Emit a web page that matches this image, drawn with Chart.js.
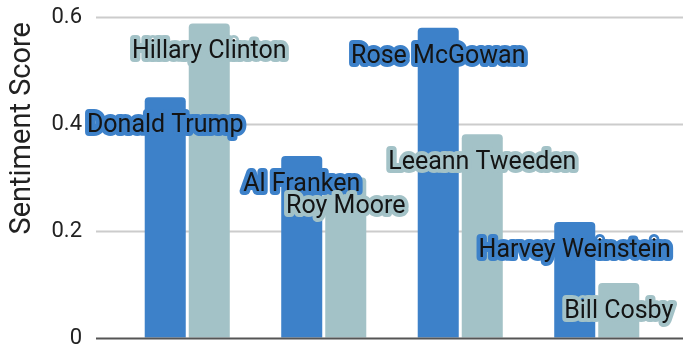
<!DOCTYPE html>
<html>
<head>
<meta charset="utf-8">
<script src="https://cdn.jsdelivr.net/npm/chart.js@4/dist/chart.umd.min.js"></script>
<style>
  html, body { margin: 0; padding: 0; background: #ffffff; }
  #wrap { width: 683px; height: 347px; }
</style>
</head>
<body>
<div id="wrap"><canvas id="chart"></canvas></div>
<script>
// Pairings compared side by side
const categories = ["Trump / Clinton", "Franken / Moore", "McGowan / Tweeden", "Weinstein / Cosby"];

// First person of each pair (blue bars)
const firstNames  = ["Donald Trump", "Al Franken", "Rose McGowan", "Harvey Weinstein"];
const firstScores = [0.45, 0.34, 0.58, 0.217];

// Second person of each pair (grey bars)
const secondNames  = ["Hillary Clinton", "Roy Moore", "Leeann Tweeden", "Bill Cosby"];
const secondScores = [0.588, 0.30, 0.381, 0.103];

// Y axis ticks and title
const yTicks = [0, 0.2, 0.4, 0.6];
const yTitle = "Sentiment Score";

const BLUE = "#3d81c9";
const GREY = "#a3c2c7";

// Grid lines that run past the plotting area on both sides
const fullGrid = {
  id: "fullGrid",
  beforeDatasetsDraw(chart) {
    const { ctx, chartArea, scales: { y } } = chart;
    const left = chartArea.left - 23;
    const right = chart.width;
    ctx.save();
    ctx.lineWidth = 2;
    y.ticks.forEach(t => {
      if (t.value === 0) return;
      const py = Math.round(y.getPixelForValue(t.value)) + 0.5;
      ctx.strokeStyle = "#cccccc";
      ctx.beginPath();
      ctx.moveTo(left, py);
      ctx.lineTo(right, py);
      ctx.stroke();
    });
    ctx.restore();
  },
  afterDatasetsDraw(chart) {
    const { ctx, chartArea, scales: { y } } = chart;
    const py = Math.round(y.getPixelForValue(0)) + 0.5;
    ctx.save();
    ctx.lineWidth = 2;
    ctx.strokeStyle = "#555555";
    ctx.beginPath();
    ctx.moveTo(chartArea.left - 23, py);
    ctx.lineTo(chart.width, py);
    ctx.stroke();
    ctx.restore();
  }
};

// Rotated axis title, anchored a little below the top of the plot
const axisTitle = {
  id: "axisTitle",
  afterDraw(chart) {
    const { ctx, chartArea } = chart;
    ctx.save();
    ctx.translate(23, chartArea.top + 5);
    ctx.rotate(-Math.PI / 2);
    ctx.font = "29px Roboto";
    ctx.fillStyle = "#222222";
    ctx.textAlign = "right";
    ctx.textBaseline = "middle";
    ctx.fillText(yTitle, 0, 0);
    ctx.restore();
  }
};

// Name labels with a halo in the bar colour
const nameLabels = {
  id: "nameLabels",
  afterDatasetsDraw(chart) {
    const { ctx } = chart;
    ctx.save();
    ctx.font = "25px Roboto";
    ctx.textAlign = "center";
    ctx.textBaseline = "alphabetic";
    ctx.lineJoin = "round";
    chart.data.datasets.forEach((ds, di) => {
      const meta = chart.getDatasetMeta(di);
      meta.data.forEach((bar, i) => {
        const text = ds.names[i];
        const x = bar.x;
        const yy = bar.y + 35;
        ctx.lineWidth = 8;
        ctx.strokeStyle = ds.backgroundColor;
        ctx.strokeText(text, x, yy);
        ctx.fillStyle = "#141414";
        ctx.fillText(text, x, yy);
      });
    });
    ctx.restore();
  }
};

new Chart(document.getElementById("chart"), {
  type: "bar",
  data: {
    labels: categories,
    datasets: [
      { data: firstScores, names: firstNames, backgroundColor: BLUE,
        borderRadius: { topLeft: 4, topRight: 4 }, borderSkipped: false },
      { data: secondScores, names: secondNames, backgroundColor: GREY,
        borderRadius: { topLeft: 4, topRight: 4 }, borderSkipped: false }
    ]
  },
  plugins: [fullGrid, nameLabels, axisTitle],
  options: {
    responsive: true,
    maintainAspectRatio: false,
    animation: false,
    layout: { padding: { top: 17, bottom: 9, right: 18, left: 0 } },
    datasets: { bar: { categoryPercentage: 0.645, barPercentage: 0.932 } },
    plugins: { legend: { display: false }, tooltip: { enabled: false } },
    scales: {
      x: { display: false },
      y: {
        min: 0,
        max: 0.6,
        afterBuildTicks(scale) { scale.ticks = yTicks.map(v => ({ value: v })); },
        afterFit(scale) { scale.width = 119; },
        grid: {
          display: true,
          drawOnChartArea: false,
          drawTicks: true,
          tickLength: 37,
          tickColor: "rgba(0,0,0,0)"
        },
        border: { display: false },
        ticks: {
          padding: 0,
          color: "#222222",
          font: { family: "Roboto", size: 22, lineHeight: 0.8 },
          callback: v => String(v)
        },
        title: { display: false }
      }
    }
  }
});
</script>
</body>
</html>
